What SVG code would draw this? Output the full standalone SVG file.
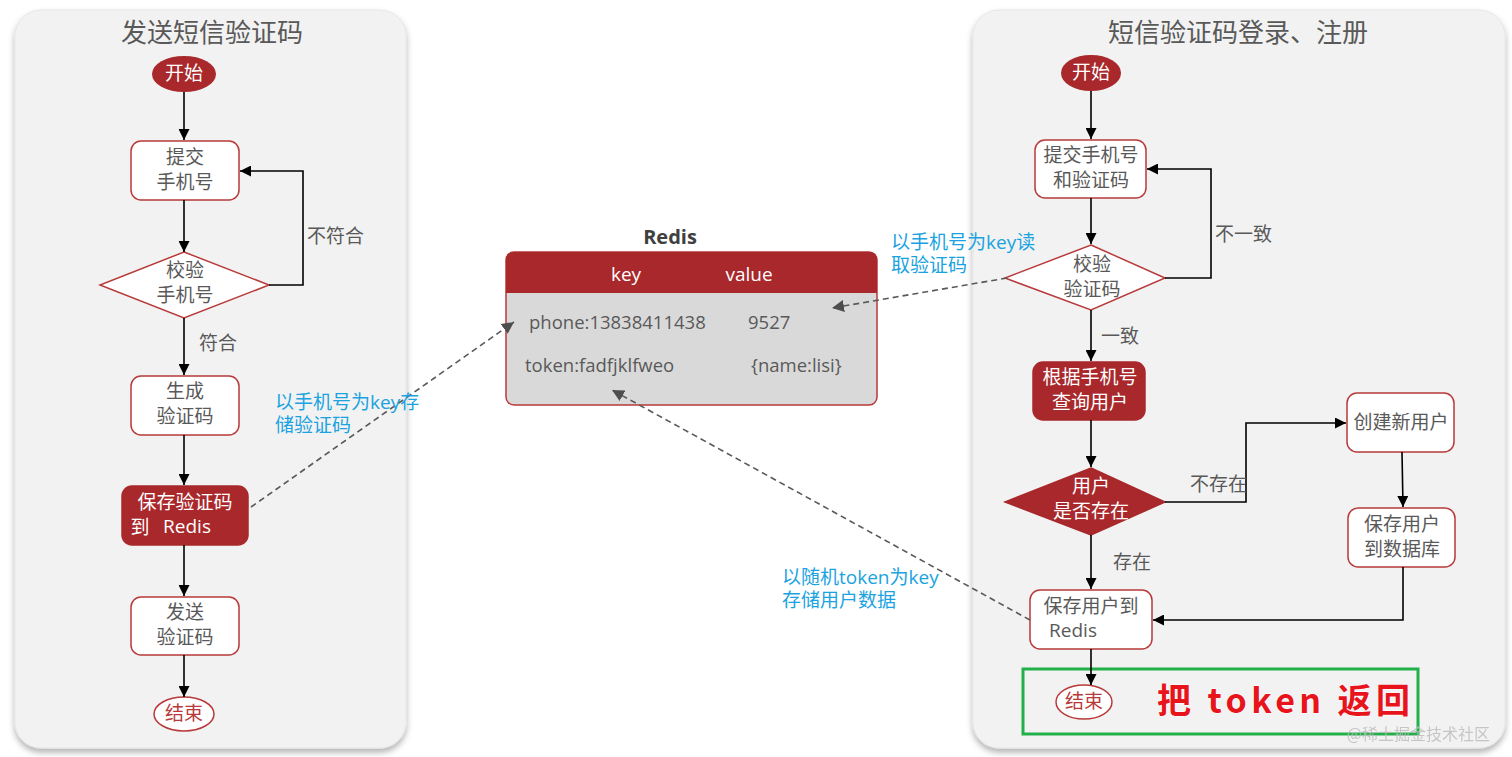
<svg xmlns="http://www.w3.org/2000/svg" width="1512" height="757" viewBox="0 0 1512 757">
<defs>
<style>
.panel{fill:#f2f2f2;stroke:#e6e6e6;stroke-width:1}
.box{fill:#ffffff;stroke:#b83a3a;stroke-width:1.5}
.fbox{fill:#a8282b;stroke:#a8282b;stroke-width:1.5}
.t{font-family:"Noto Sans CJK SC","Noto Sans",sans-serif;font-size:19px;fill:#595959;text-anchor:middle}
.tw{font-family:"Noto Sans CJK SC","Noto Sans",sans-serif;font-size:19px;fill:#ffffff;text-anchor:middle}
.title{font-family:"Noto Sans CJK SC",sans-serif;font-size:26px;fill:#595959;text-anchor:middle}
.lab{font-family:"Noto Sans CJK SC",sans-serif;font-size:19px;fill:#595959}
.blue{font-family:"Open Sans","Noto Sans CJK SC",sans-serif;font-size:19px;fill:#1aa3e0}
.mono{font-family:"Open Sans","Noto Sans",sans-serif;font-size:18.5px;fill:#595959}
.conn{fill:none;stroke:#000;stroke-width:1.6}
.dash{fill:none;stroke:#595959;stroke-width:1.6;stroke-dasharray:6 4}
</style>
<marker id="ah" viewBox="0 0 10 10" refX="10" refY="5" markerWidth="11" markerHeight="11" markerUnits="userSpaceOnUse" orient="auto"><path d="M0,0 L10,5 L0,10 z" fill="#000"/></marker>
<marker id="ahg" viewBox="0 0 10 10" refX="10" refY="5" markerWidth="12" markerHeight="12" markerUnits="userSpaceOnUse" orient="auto"><path d="M0,0 L10,5 L0,10 z" fill="#4d4d4d"/></marker>
<filter id="sh" x="-5%" y="-5%" width="110%" height="110%"><feDropShadow dx="0" dy="4" stdDeviation="3" flood-color="#000" flood-opacity="0.3"/></filter>
</defs>
<rect width="1512" height="757" fill="#ffffff"/>

<g id="panel-left">
<rect class="panel" x="15" y="10" width="391" height="738" rx="26" filter="url(#sh)"/>
<text class="title" x="212" y="42">发送短信验证码</text>
</g>
<g id="panel-right">
<rect class="panel" x="973" y="10" width="532" height="738" rx="26" filter="url(#sh)"/>
<text class="title" x="1238" y="42">短信验证码登录、注册</text>
</g>

<g id="l-start"><ellipse cx="184" cy="74" rx="32" ry="18" fill="#a8282b"/><text class="tw" x="184" y="80">开始</text></g>
<g id="l-submit"><rect class="box" x="131" y="141" width="108" height="59" rx="10"/><text class="t" x="185" y="164">提交</text><text class="t" x="185" y="189">手机号</text></g>
<g id="l-check"><polygon class="box" points="184,252 269,285 184,318 100,285"/><text class="t" x="185" y="277">校验</text><text class="t" x="185" y="302">手机号</text></g>
<g id="l-gen"><rect class="box" x="131" y="376" width="108" height="59" rx="10"/><text class="t" x="185" y="398">生成</text><text class="t" x="185" y="423">验证码</text></g>
<g id="l-save"><rect class="fbox" x="122" y="486" width="126" height="59" rx="10"/><text class="tw" x="185" y="509">保存验证码</text><text class="tw" x="140" y="534">到</text><text class="tw" x="187" y="533" style="font-family:'Open Sans','Noto Sans',sans-serif">Redis</text></g>
<g id="l-send"><rect class="box" x="131" y="597" width="108" height="58" rx="10"/><text class="t" x="185" y="619">发送</text><text class="t" x="185" y="644">验证码</text></g>
<g id="l-end"><ellipse cx="184" cy="714" rx="30" ry="17" fill="#fff" stroke="#b83a3a" stroke-width="1.5"/><text class="t" x="184" y="720" style="fill:#b83a3a">结束</text></g>

<g id="redis">
<text x="670" y="244" text-anchor="middle" style="font-family:'Open Sans','Noto Sans',sans-serif;font-size:20px;font-weight:bold;fill:#404040">Redis</text>
<rect x="506" y="252" width="371" height="153" rx="8" fill="#d9d9d9" stroke="#b83a3a" stroke-width="1.5"/>
<path d="M506,293 L506,260 Q506,252 514,252 L869,252 Q877,252 877,260 L877,293 Z" fill="#a8282b"/>
<text x="626" y="281" text-anchor="middle" style="font-family:'Open Sans',sans-serif;font-size:19px;fill:#fff">key</text>
<text x="749" y="281" text-anchor="middle" style="font-family:'Open Sans',sans-serif;font-size:19px;fill:#fff">value</text>
<text class="mono" x="529" y="329">phone:13838411438</text>
<text class="mono" x="748" y="329">9527</text>
<text class="mono" x="525" y="372">token:fadfjklfweo</text>
<text class="mono" x="751" y="372">{name:lisi}</text>
</g>

<g id="r-start"><ellipse cx="1091" cy="73" rx="30" ry="18" fill="#a8282b"/><text class="tw" x="1091" y="79">开始</text></g>
<g id="r-submit"><rect class="box" x="1035" y="140" width="111" height="58" rx="10"/><text class="t" x="1091" y="162">提交手机号</text><text class="t" x="1091" y="187">和验证码</text></g>
<g id="r-check"><polygon class="box" points="1091,245 1165,278 1091,310 1005,278"/><text class="t" x="1092" y="271">校验</text><text class="t" x="1092" y="296">验证码</text></g>
<g id="r-query"><rect class="fbox" x="1033" y="362" width="112" height="58" rx="10"/><text class="tw" x="1090" y="384">根据手机号</text><text class="tw" x="1090" y="409">查询用户</text></g>
<g id="r-exists"><polygon class="fbox" points="1091,468 1165,502 1091,535 1005,502"/><text class="tw" x="1091" y="493">用户</text><text class="tw" x="1091" y="518">是否存在</text></g>
<g id="r-create"><rect class="box" x="1347" y="393" width="107" height="59" rx="10"/><text class="t" x="1401" y="429">创建新用户</text></g>
<g id="r-savedb"><rect class="box" x="1348" y="508" width="107" height="59" rx="10"/><text class="t" x="1402" y="531">保存用户</text><text class="t" x="1402" y="556">到数据库</text></g>
<g id="r-saveredis"><rect class="box" x="1030" y="590" width="122" height="59" rx="10"/><text class="t" x="1091" y="613">保存用户到</text><text class="t" x="1073" y="637" style="font-family:'Open Sans','Noto Sans',sans-serif">Redis</text></g>
<g id="r-end"><ellipse cx="1084" cy="702" rx="28" ry="17" fill="#fff" stroke="#b83a3a" stroke-width="1.5"/><text class="t" x="1084" y="708" style="fill:#b83a3a">结束</text></g>
<g id="r-return">
<rect x="1023" y="669" width="395" height="65" fill="none" stroke="#22b04b" stroke-width="3"/>
<text x="1157" y="713" textLength="253" lengthAdjust="spacing" style="font-family:'Noto Sans CJK SC','DejaVu Sans',sans-serif;font-size:34px;font-weight:bold;fill:#e8141c;stroke:#fff;stroke-width:1;paint-order:stroke">把 token 返回</text>
<text x="1490" y="740" text-anchor="end" style="font-family:'Noto Sans CJK SC',sans-serif;font-size:16px;fill:#bbbbbb;opacity:0.8">@稀土掘金技术社区</text>
</g>

<g id="connectors">
<line class="conn" x1="184" y1="92" x2="184" y2="140" marker-end="url(#ah)"/>
<line class="conn" x1="184" y1="200" x2="184" y2="252" marker-end="url(#ah)"/>
<polyline class="conn" points="269,285 303,285 303,171 240,171" marker-end="url(#ah)"/>
<line class="conn" x1="184" y1="318" x2="184" y2="375" marker-end="url(#ah)"/>
<line class="conn" x1="184" y1="435" x2="184" y2="485" marker-end="url(#ah)"/>
<line class="conn" x1="184" y1="545" x2="184" y2="596" marker-end="url(#ah)"/>
<line class="conn" x1="184" y1="655" x2="184" y2="697" marker-end="url(#ah)"/>
<line class="conn" x1="1091" y1="91" x2="1091" y2="139" marker-end="url(#ah)"/>
<line class="conn" x1="1091" y1="198" x2="1091" y2="244" marker-end="url(#ah)"/>
<polyline class="conn" points="1165,278 1211,278 1211,169 1147,169" marker-end="url(#ah)"/>
<line class="conn" x1="1091" y1="310" x2="1091" y2="361" marker-end="url(#ah)"/>
<line class="conn" x1="1091" y1="420" x2="1091" y2="467" marker-end="url(#ah)"/>
<polyline class="conn" points="1165,502 1246,502 1246,423 1346,423" marker-end="url(#ah)"/>
<line class="conn" x1="1402" y1="452" x2="1403" y2="507" marker-end="url(#ah)"/>
<polyline class="conn" points="1403,567 1403,620 1153,620" marker-end="url(#ah)"/>
<line class="conn" x1="1091" y1="535" x2="1091" y2="589" marker-end="url(#ah)"/>
<line class="conn" x1="1091" y1="649" x2="1091" y2="685" marker-end="url(#ah)"/>
<line class="dash" x1="251" y1="507" x2="514" y2="322" marker-end="url(#ahg)"/>
<line class="dash" x1="1007" y1="278" x2="832" y2="308" marker-end="url(#ahg)"/>
<line class="dash" x1="1030" y1="620" x2="612" y2="390" marker-end="url(#ahg)"/>
<text class="lab" x="307" y="243">不符合</text>
<text class="lab" x="199" y="350">符合</text>
<text class="lab" x="1215" y="241">不一致</text>
<text class="lab" x="1101" y="343">一致</text>
<text class="lab" x="1190" y="491">不存在</text>
<text class="lab" x="1113" y="569">存在</text>
<text class="blue" x="275" y="409">以手机号为key存</text>
<text class="blue" x="275" y="432">储验证码</text>
<text class="blue" x="891" y="249">以手机号为key读</text>
<text class="blue" x="891" y="272">取验证码</text>
<text class="blue" x="782" y="584">以随机token为key</text>
<text class="blue" x="782" y="607">存储用户数据</text>
</g>
</svg>
